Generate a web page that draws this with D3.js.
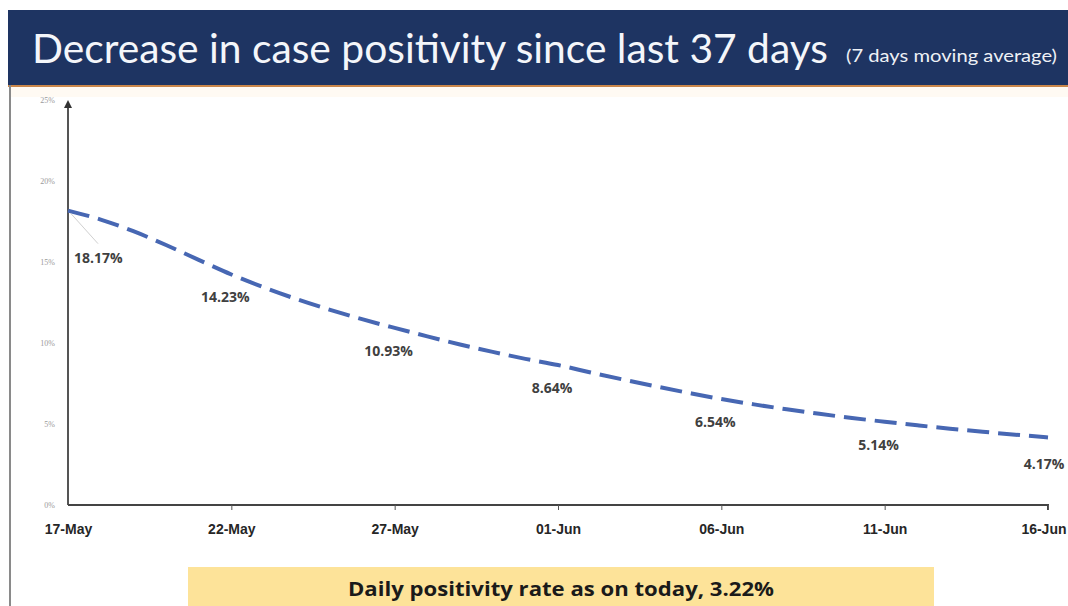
<!DOCTYPE html>
<html>
<head>
<meta charset="utf-8">
<script src="https://cdn.jsdelivr.net/npm/d3@7"></script>
<style>
  html, body { margin: 0; padding: 0; background: #fff; overflow: hidden; }
  svg { display: block; }
</style>
</head>
<body>
<svg id="chart" width="1068" height="606"></svg>
<script>
// 7-day moving average of case positivity, one value per day, 17-May .. 16-Jun
const days = d3.range(0, 31)
const positivity = [
  18.17, 17.62, 16.90, 16.05, 15.13, 14.23, 13.43, 12.71, 12.06, 11.47,
  10.93, 10.41, 9.91, 9.45, 9.02, 8.64, 8.18, 7.74, 7.32, 6.92,
  6.54, 6.21, 5.91, 5.63, 5.37, 5.14, 4.92, 4.71, 4.52, 4.34, 4.17
]
const tickDays = [0, 5, 10, 15, 20, 25, 30]
const tickLabels = ['17-May', '22-May', '27-May', '01-Jun', '06-Jun', '11-Jun', '16-Jun']
const yTicks = [0, 5, 10, 15, 20, 25]
const title = 'Decrease in case positivity since last 37 days'
const subtitle = '(7 days moving average)'
const footnote = 'Daily positivity rate as on today, 3.22%'

const svg = d3.select('#chart')

// header band
svg.append('rect')
  .attr('x', 8).attr('y', 10).attr('width', 1060).attr('height', 75)
  .attr('fill', '#1e3462')
svg.append('rect')
  .attr('x', 8).attr('y', 85).attr('width', 1060).attr('height', 2)
  .attr('fill', '#c9864a')
svg.append('rect')
  .attr('x', 10).attr('y', 87).attr('width', 1058).attr('height', 10)
  .attr('fill', '#fffaf3')

svg.append('text')
  .attr('x', 32).attr('y', 63)
  .attr('fill', '#f4f6fa')
  .style('font-family', 'Lato, "Open Sans", sans-serif')
  .style('font-size', '41px')
  .attr('textLength', 796)
  .attr('lengthAdjust', 'spacingAndGlyphs')
  .text(title)

svg.append('text')
  .attr('x', 846).attr('y', 62)
  .attr('fill', '#eef1f6')
  .style('font-family', 'Lato, "Open Sans", sans-serif')
  .style('font-size', '18px')
  .attr('textLength', 211)
  .attr('lengthAdjust', 'spacingAndGlyphs')
  .text(subtitle)

// left slide border
svg.append('line')
  .attr('x1', 10).attr('x2', 10).attr('y1', 85).attr('y2', 606)
  .attr('stroke', '#8a8a8a').attr('stroke-width', 2)

// scales
const x = d3.scaleLinear().domain([0, 30]).range([68, 1048])
const y = d3.scaleLinear().domain([0, 25]).range([505, 100])

// y axis with arrow
const defs = svg.append('defs')
defs.append('marker')
  .attr('id', 'arrow')
  .attr('viewBox', '0 0 10 10')
  .attr('refX', 5).attr('refY', 5)
  .attr('markerWidth', 4).attr('markerHeight', 4)
  .attr('orient', 'auto')
  .append('path')
  .attr('d', 'M0,0 L10,5 L0,10 z')
  .attr('fill', '#333')

svg.append('line')
  .attr('x1', x(0)).attr('x2', x(0))
  .attr('y1', y(0)).attr('y2', y(25) + 4)
  .attr('stroke', '#555').attr('stroke-width', 2)
  .attr('marker-end', 'url(#arrow)')

svg.selectAll('.ytick')
  .data(yTicks)
  .enter().append('text')
  .attr('class', 'ytick')
  .attr('x', 55)
  .attr('y', d => y(d) + 3)
  .attr('text-anchor', 'end')
  .attr('fill', '#9a9a9a')
  .style('font-family', '"Liberation Serif", serif')
  .style('font-size', '8px')
  .text(d => d + '%')

// x axis
const xAxis = d3.axisBottom(x)
  .tickValues(tickDays)
  .tickSize(5)
  .tickFormat((d, i) => tickLabels[i])

const gx = svg.append('g')
  .attr('transform', `translate(0,${y(0)})`)
  .call(xAxis)
gx.select('.domain')
  .attr('d', `M${x(0)},0H${x(30)}V5`)
  .attr('stroke', '#444').attr('stroke-width', 2)
gx.selectAll('.tick line').attr('stroke', '#555').attr('stroke-width', 1)
gx.selectAll('.tick').filter(d => d === 0).select('line').remove()
gx.selectAll('.tick text')
  .attr('y', 19)
  .attr('fill', '#262626')
  .style('font-family', '"Liberation Sans Narrow", "Liberation Sans", sans-serif')
  .style('font-weight', 'bold')
  .style('font-size', '14px')
// last label sits against the right edge of the slide
gx.selectAll('.tick').filter(d => d === 30).select('text')
  .attr('text-anchor', 'end')
  .attr('x', 1066 - x(30))

// the series
const line = d3.line()
  .x(d => x(d))
  .y((d, i) => y(positivity[i]))
  .curve(d3.curveMonotoneX)

svg.append('path')
  .datum(days)
  .attr('d', line)
  .attr('fill', 'none')
  .attr('stroke', '#4767b3')
  .attr('stroke-width', 4)
  .attr('stroke-dasharray', '22,9')

// leader line for first label
svg.append('line')
  .attr('x1', x(0) + 3).attr('y1', y(positivity[0]) + 3)
  .attr('x2', x(0) + 30).attr('y2', y(positivity[0]) + 33)
  .attr('stroke', '#d0d0d0').attr('stroke-width', 1)

// data labels every 5 days
svg.selectAll('.dlabel')
  .data(tickDays)
  .enter().append('text')
  .attr('class', 'dlabel')
  .attr('x', d => d === 0 ? x(d) + 6 : (d === 30 ? x(d) - 4 : x(d) - 6))
  .attr('y', d => d === 0 ? y(positivity[d]) + 52 : y(positivity[d]) + (d === 30 ? 32 : 28))
  .attr('text-anchor', d => d === 0 ? 'start' : 'middle')
  .attr('fill', '#404040')
  .style('font-family', '"Open Sans", sans-serif')
  .style('font-weight', 'bold')
  .style('font-size', '14px')
  .text(d => positivity[d].toFixed(2) + '%')

// footer box
svg.append('rect')
  .attr('x', 188).attr('y', 567).attr('width', 746).attr('height', 45)
  .attr('fill', '#fde399')
svg.append('text')
  .attr('x', 561).attr('y', 596)
  .attr('text-anchor', 'middle')
  .attr('fill', '#1a1a1a')
  .style('font-family', '"Open Sans", sans-serif')
  .style('font-weight', 'bold')
  .style('font-size', '19px')
  .attr('textLength', 426)
  .attr('lengthAdjust', 'spacingAndGlyphs')
  .text(footnote)
</script>
</body>
</html>
